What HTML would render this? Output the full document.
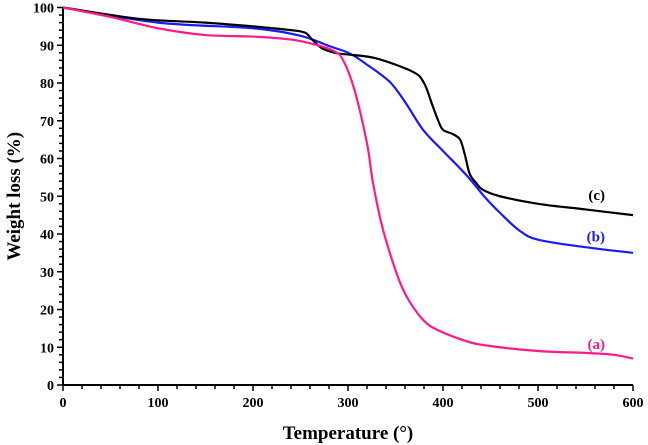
<!DOCTYPE html>
<html><head><meta charset="utf-8"><style>
body{margin:0;background:#fff}
svg{display:block;font-family:"Liberation Serif",serif;font-weight:bold}
</style></head><body>
<svg id="c" width="648" height="445"></svg>
<script>
const xTicks=[0,100,200,300,400,500,600];
const yTicks=[0,10,20,30,40,50,60,70,80,90,100];
const tempA=[0,50,100,150,200,240,265,285,295,307,320,326,335,344,355,365,380,394,420,442,500,550,580,600];
const lossA=[100,97.5,94.5,92.7,92.3,91.5,90.2,88.5,86,78,64,54,43,35,27,22,17,14.6,12,10.6,9,8.5,8,7];
const tempB=[0,100,200,250,280,302,322,344,360,379,400,425,445,460,480,500,550,600];
const lossB=[100,96,94.5,92.5,89.8,87.8,84.5,80.3,75,67.6,62,55.5,49.5,45.6,41,38.5,36.5,35];
const tempC=[0,80,150,200,240,255,263,274,290,302,330,368,380,389,395,400,410,418,423,428,435,442,460,500,550,600];
const lossC=[100,97,96,95,94,93.3,91.3,89,87.8,87.5,86.5,83,80,74,70,67.6,66.5,65,61,56,53.5,51.7,50,48,46.5,45];
const NS="http://www.w3.org/2000/svg";
const svg=document.getElementById('c');
const X0=63,X1=633,Y0=385,Y1=7.5;
const sx=v=>X0+(X1-X0)*v/600, sy=v=>Y0-(Y0-Y1)*v/100;
function mk(t,a,p){const e=document.createElementNS(NS,t);for(const k in a)e.setAttribute(k,a[k]);(p||svg).appendChild(e);return e;}
let e;
e=mk('line',{x1:X0,y1:Y1,x2:X0,y2:Y0,stroke:'#000','stroke-width':2});


e=mk('line',{x1:X0,y1:Y0,x2:X1,y2:Y0,stroke:'#000','stroke-width':2});


for(let v=0;v<=600;v+=20){const big=v%100==0;mk('line',{x1:sx(v),x2:sx(v),y1:Y0,y2:Y0+(big?6:4),stroke:'#000','stroke-width':1.5});}
for(let v=0;v<=100;v+=2){const big=v%10==0;mk('line',{x1:X0,x2:X0-(big?6:4),y1:sy(v),y2:sy(v),stroke:'#000','stroke-width':1.5});}
xTicks.forEach(v=>{const t=mk('text',{x:sx(v),y:Y0+22,'text-anchor':'middle','font-size':14});t.textContent=v;

});
yTicks.forEach(v=>{const t=mk('text',{x:X0-9,y:sy(v)+5,'text-anchor':'end','font-size':14});t.textContent=v;

});
function line(xs,ys,col,name){
 const pts=xs.map((x,i)=>[sx(x),sy(ys[i])]);
 let d='M'+pts[0][0]+','+pts[0][1];
 for(let i=0;i<pts.length-1;i++){const p0=pts[i-1]||pts[i],p1=pts[i],p2=pts[i+1],p3=pts[i+2]||p2;
  d+=` C${p1[0]+(p2[0]-p0[0])/6},${p1[1]+(p2[1]-p0[1])/6} ${p2[0]-(p3[0]-p1[0])/6},${p2[1]-(p3[1]-p1[1])/6} ${p2[0]},${p2[1]}`;}
 const p=mk('path',{d:d,fill:'none',stroke:col,'stroke-width':2.2});
 
 
}
line(tempB,lossB,'#1a1aff','series-b');
line(tempC,lossC,'#000','series-c');
line(tempA,lossA,'#ff1a8c','series-a');
[['(c)',sy(49),'#000','label-c'],['(b)',sy(38),'#1a1aff','label-b'],['(a)',sy(9.5),'#ff1a8c','label-a']].forEach(l=>{
 const t=mk('text',{x:605,y:l[1],'text-anchor':'end','font-size':15,fill:l[2]});t.textContent=l[0];
 
 });
e=mk('text',{x:348,y:439,'text-anchor':'middle','font-size':19});e.textContent='Temperature  (°)';


e=mk('text',{x:0,y:0,'text-anchor':'middle','font-size':19,transform:`translate(20,${(Y0+Y1)/2}) rotate(-90)`});e.textContent='Weight loss (%)';


</script>
</body></html>
